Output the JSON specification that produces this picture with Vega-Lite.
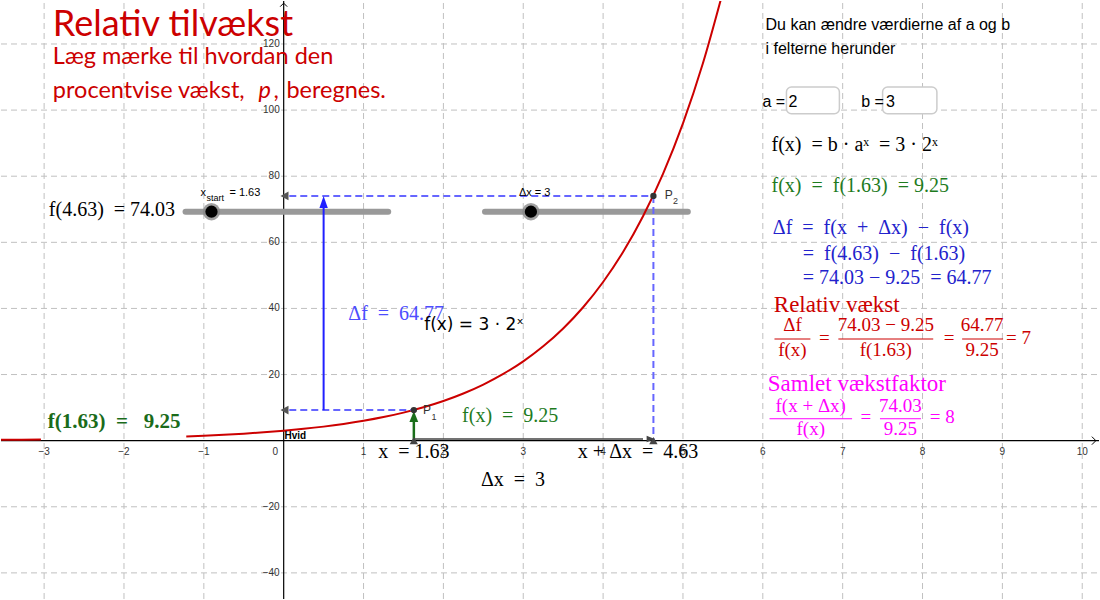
{
 "$schema": "https://vega.github.io/schema/vega-lite/v6.json",
 "width": 1100,
 "height": 600,
 "padding": 0,
 "autosize": {"type": "fit", "contains": "padding"},
 "background": "white",
 "config": {"view": {"stroke": null}},
 "datasets": {
  "vgrid": [{"x":-3,"y":-47.9,"y2":133},{"x":-2,"y":-47.9,"y2":133},{"x":-1,"y":-47.9,"y2":133},{"x":1,"y":-47.9,"y2":133},{"x":2,"y":-47.9,"y2":133},{"x":3,"y":-47.9,"y2":133},{"x":4,"y":-47.9,"y2":133},{"x":5,"y":-47.9,"y2":133},{"x":6,"y":-47.9,"y2":133},{"x":7,"y":-47.9,"y2":133},{"x":8,"y":-47.9,"y2":133},{"x":9,"y":-47.9,"y2":133},{"x":10,"y":-47.9,"y2":133}],
  "hgrid": [{"y":-40,"x":-3.54,"x2":10.21},{"y":-20,"x":-3.54,"x2":10.21},{"y":20,"x":-3.54,"x2":10.21},{"y":40,"x":-3.54,"x2":10.21},{"y":60,"x":-3.54,"x2":10.21},{"y":80,"x":-3.54,"x2":10.21},{"y":100,"x":-3.54,"x2":10.21},{"y":120,"x":-3.54,"x2":10.21}],
  "axes": [{"x":0,"y":-47.9,"x2":0,"y2":133},{"x":-3.54,"y":0,"x2":10.21,"y2":0}],
  "xarrow": [{"x":10.171,"y":0}],
  "yarrow": [{"x":0,"y":132.35}],
  "xlabels": [{"x":-3,"y":-4.22,"t":"−3"},{"x":-2,"y":-4.22,"t":"−2"},{"x":-1,"y":-4.22,"t":"−1"},{"x":-0.104,"y":-4.22,"t":"0"},{"x":1,"y":-4.22,"t":"1"},{"x":2,"y":-4.22,"t":"2"},{"x":3,"y":-4.22,"t":"3"},{"x":4,"y":-4.22,"t":"4"},{"x":5,"y":-4.22,"t":"5"},{"x":6,"y":-4.22,"t":"6"},{"x":7,"y":-4.22,"t":"7"},{"x":8,"y":-4.22,"t":"8"},{"x":9,"y":-4.22,"t":"9"},{"x":10,"y":-4.22,"t":"10"}],
  "ylabels": [{"x":-0.05,"y":120,"t":"120"},{"x":-0.05,"y":100,"t":"100"},{"x":-0.05,"y":80,"t":"80"},{"x":-0.05,"y":60,"t":"60"},{"x":-0.05,"y":40,"t":"40"},{"x":-0.05,"y":20,"t":"20"},{"x":-0.05,"y":-20,"t":"−20"},{"x":-0.05,"y":-40,"t":"−40"}],
  "sliders": [{"x":-1.229,"x2":1.309,"y":69.25},{"x":2.521,"x2":5.061,"y":69.25}],
  "knobs": [{"x":-0.904,"y":69.25},{"x":3.096,"y":69.25}],
  "curve": [
   {"seg":"a","x":-3.54,"y":0.258},{"seg":"a","x":-3.3,"y":0.305},{"seg":"a","x":-3.04,"y":0.364},
   {"seg":"b","x":-1.22,"y":1.288},{"seg":"b","x":-1.0,"y":1.5},{"seg":"b","x":-0.75,"y":1.784},{"seg":"b","x":-0.5,"y":2.121},{"seg":"b","x":-0.25,"y":2.523},{"seg":"b","x":0,"y":3},{"seg":"b","x":0.25,"y":3.568},{"seg":"b","x":0.5,"y":4.243},{"seg":"b","x":0.75,"y":5.045},{"seg":"b","x":1.0,"y":6},{"seg":"b","x":1.25,"y":7.135},{"seg":"b","x":1.5,"y":8.485},{"seg":"b","x":1.75,"y":10.09},{"seg":"b","x":2.0,"y":12},{"seg":"b","x":2.25,"y":14.27},{"seg":"b","x":2.5,"y":16.97},{"seg":"b","x":2.75,"y":20.18},{"seg":"b","x":3.0,"y":24},{"seg":"b","x":3.25,"y":28.54},{"seg":"b","x":3.5,"y":33.94},{"seg":"b","x":3.75,"y":40.36},{"seg":"b","x":4.0,"y":48},{"seg":"b","x":4.25,"y":57.08},{"seg":"b","x":4.5,"y":67.88},{"seg":"b","x":4.75,"y":80.73},{"seg":"b","x":5.0,"y":96},{"seg":"b","x":5.25,"y":114.16},{"seg":"b","x":5.5,"y":135.76}
  ],
  "dashed": [{"x":0.07,"y":74.03,"x2":4.63,"y2":74.03},{"x":0.07,"y":9.25,"x2":1.63,"y2":9.25},{"x":4.63,"y":74.03,"x2":4.63,"y2":0}],
  "bluearrow": [{"x":0.5,"y":9.25,"x2":0.5,"y2":71}],
  "bluehead": [{"x":0.5,"y":74.03}],
  "greenarrow": [{"x":1.63,"y":0,"x2":1.63,"y2":6.5}],
  "greenhead": [{"x":1.63,"y":9.0}],
  "greyarrow": [{"x":1.63,"y":0.5,"x2":4.5,"y2":0.5}],
  "greyhead": [{"x":4.645,"y":0.5}],
  "lefthead": [{"x":-0.04,"y":74.03},{"x":-0.04,"y":9.25}],
  "axispts": [{"x":1.63,"y":0},{"x":4.63,"y":0}],
  "pts": [{"x":1.63,"y":9.25},{"x":4.63,"y":74.03}],
  "boxes": [{"x":6.296,"x2":6.959,"y":107.0,"y2":98.9},{"x":7.5,"x2":8.18,"y":107.0,"y2":98.9}],
  "redlines": [{"x":6.146,"x2":6.596,"y":30.75},{"x":6.946,"x2":8.134,"y":30.75},{"x":8.496,"x2":9.009,"y":30.75}],
  "maglines": [{"x":6.084,"x2":7.118,"y":6.63},{"x":7.467,"x2":7.98,"y":6.63}],
  "title": [{"x":-2.891,"y":122.4,"t":"Relativ tilvækst"}],
  "subtitle": [{"x":-2.891,"y":113.96,"t":"Læg mærke til hvordan den"},{"x":-2.891,"y":103.7,"t":"procentvise vækst,"},{"x":-0.129,"y":103.7,"t":","},{"x":0.034,"y":103.7,"t":"beregnes."}],
  "subp": [{"x":-0.316,"y":103.7,"t":"p"}],
  "sans": [{"x":6.034,"y":124.2,"t":"Du kan ændre værdierne af a og b"},{"x":6.034,"y":117.0,"t":"i felterne herunder"},{"x":5.996,"y":101.0,"t":"a ="},{"x":6.321,"y":101.0,"t":"2"},{"x":7.233,"y":101.0,"t":"b ="},{"x":7.543,"y":101.0,"t":"3"}],
  "mathblack": [{"x":6.109,"y":87.7,"t":"f(x)\u00a0 = b · aˣ\u00a0 = 3 · 2ˣ"},{"x":-2.941,"y":68.1,"t":"f(4.63)\u00a0 = 74.03"},{"x":2.47,"y":-13.57,"t":"Δx\u00a0 =\u00a0 3"},{"x":1.184,"y":-5.2,"t":"x\u00a0 = 1.63"},{"x":3.684,"y":-5.2,"t":"x + Δx\u00a0 =\u00a0 4.63"}],
  "mathgreen": [{"x":6.109,"y":75.2,"t":"f(x)\u00a0 =\u00a0 f(1.63)\u00a0 = 9.25"},{"x":2.234,"y":5.52,"t":"f(x)\u00a0 =\u00a0 9.25"}],
  "boldgreen": [{"x":-2.954,"y":3.83,"t":"f(1.63)\u00a0 =\u00a0\u00a0 9.25"}],
  "mathblue": [{"x":6.125,"y":62.6,"t":"Δf\u00a0 =\u00a0 f(x\u00a0 +\u00a0 Δx)\u00a0 −\u00a0 f(x)"},{"x":6.5,"y":54.57,"t":"=\u00a0 f(4.63)\u00a0 −\u00a0 f(1.63)"},{"x":6.5,"y":47.5,"t":"= 74.03 − 9.25\u00a0 = 64.77"}],
  "lightblue": [{"x":0.809,"y":36.5,"t":"Δf\u00a0 =\u00a0 64.77"}],
  "redhead": [{"x":6.1375,"y":38.98,"t":"Relativ vækst"}],
  "redfrac": [{"x":6.371,"y":33.25,"t":"Δf"},{"x":6.371,"y":25.6,"t":"f(x)"},{"x":7.54,"y":33.25,"t":"74.03 − 9.25"},{"x":7.54,"y":25.6,"t":"f(1.63)"},{"x":8.746,"y":33.25,"t":"64.77"},{"x":8.746,"y":25.6,"t":"9.25"},{"x":6.77,"y":29.39,"t":"="},{"x":8.334,"y":29.39,"t":"="},{"x":9.2025,"y":29.39,"t":"= 7"}],
  "maghead": [{"x":6.0625,"y":15.17,"t":"Samlet vækstfaktor"}],
  "magfrac": [{"x":6.6,"y":8.74,"t":"f(x + Δx)"},{"x":6.6,"y":1.6,"t":"f(x)"},{"x":7.29,"y":5.28,"t":"="},{"x":7.724,"y":8.74,"t":"74.03"},{"x":7.724,"y":1.6,"t":"9.25"},{"x":8.246,"y":5.28,"t":"= 8"}],
  "fxlabel": [{"x":1.759,"y":33.46,"t":"f(x) = 3 · 2ˣ"}],
  "small": [{"x":-1.041,"y":73.86,"t":"x"},{"x":-0.679,"y":74.16,"t":"= 1.63"},{"x":2.946,"y":74.16,"t":"Δx = 3"}],
  "tiny": [{"x":-0.966,"y":72.35,"t":"start"}],
  "hvid": [{"x":0.009,"y":0.6,"t":"Hvid"}],
  "plabels": [{"x":1.746,"y":8.14,"t":"P"},{"x":4.771,"y":72.96,"t":"P"}],
  "psubs": [{"x":1.85,"y":6.4,"t":"1"},{"x":4.875,"y":71.6,"t":"2"}]
 },
 "encoding": {
  "x": {"field": "x", "type": "quantitative", "scale": {"domain": [-3.54, 10.21], "nice": false, "zero": false}, "axis": null},
  "y": {"field": "y", "type": "quantitative", "scale": {"domain": [-47.9, 133], "nice": false, "zero": false}, "axis": null}
 },
 "layer": [
  {"data": {"name": "vgrid"}, "mark": {"type": "rule", "color": "#C0C0C0", "strokeWidth": 1, "strokeDash": [6, 4]}, "encoding": {"y2": {"field": "y2"}}},
  {"data": {"name": "hgrid"}, "mark": {"type": "rule", "color": "#C0C0C0", "strokeWidth": 1, "strokeDash": [6, 4]}, "encoding": {"x2": {"field": "x2"}}},
  {"data": {"name": "axes"}, "mark": {"type": "rule", "color": "black", "strokeWidth": 1.2}, "encoding": {"x2": {"field": "x2"}, "y2": {"field": "y2"}}},
  {"data": {"name": "xarrow"}, "mark": {"type": "point", "shape": "M-1,-1L0,0L-1,1", "filled": false, "stroke": "black", "strokeWidth": 1, "size": 64, "opacity": 1}},
  {"data": {"name": "yarrow"}, "mark": {"type": "point", "shape": "M-1,1L0,0L1,1", "filled": false, "stroke": "black", "strokeWidth": 1, "size": 49, "opacity": 1}},
  {"data": {"name": "xlabels"}, "mark": {"type": "text", "font": "Liberation Sans", "fontSize": 10, "color": "#333333", "align": "center", "baseline": "alphabetic"}, "encoding": {"text": {"field": "t"}}},
  {"data": {"name": "ylabels"}, "mark": {"type": "text", "font": "Liberation Sans", "fontSize": 10, "color": "#333333", "align": "right", "baseline": "middle"}, "encoding": {"text": {"field": "t"}}},
  {"data": {"name": "boxes"}, "mark": {"type": "rect", "fill": "white", "stroke": "#CCCCCC", "strokeWidth": 1.5, "cornerRadius": 5}, "encoding": {"x2": {"field": "x2"}, "y2": {"field": "y2"}}},
  {"data": {"name": "sliders"}, "mark": {"type": "rule", "color": "#999999", "strokeWidth": 6, "strokeCap": "round"}, "encoding": {"x2": {"field": "x2"}}},
  {"data": {"name": "knobs"}, "mark": {"type": "point", "shape": "circle", "filled": true, "color": "#888888", "size": 300, "opacity": 0.8}},
  {"data": {"name": "knobs"}, "mark": {"type": "point", "shape": "circle", "filled": true, "color": "black", "size": 150, "opacity": 1}},
  {"data": {"name": "curve"}, "mark": {"type": "line", "color": "#CC0000", "strokeWidth": 2, "interpolate": "monotone", "clip": true}, "encoding": {"detail": {"field": "seg"}}},
  {"data": {"name": "dashed"}, "mark": {"type": "rule", "color": "#6666FF", "strokeWidth": 2, "strokeDash": [7, 4]}, "encoding": {"x2": {"field": "x2"}, "y2": {"field": "y2"}}},
  {"data": {"name": "bluearrow"}, "mark": {"type": "rule", "color": "#2020FF", "strokeWidth": 2}, "encoding": {"x2": {"field": "x2"}, "y2": {"field": "y2"}}},
  {"data": {"name": "bluehead"}, "mark": {"type": "point", "shape": "M0,0L-0.35,1L0.35,1Z", "filled": true, "color": "#2020FF", "size": 576, "opacity": 1}},
  {"data": {"name": "greenarrow"}, "mark": {"type": "rule", "color": "#1A6E1A", "strokeWidth": 2.5}, "encoding": {"x2": {"field": "x2"}, "y2": {"field": "y2"}}},
  {"data": {"name": "greenhead"}, "mark": {"type": "point", "shape": "M0,0L-0.4,1L0.4,1Z", "filled": true, "color": "#1A6E1A", "size": 484, "opacity": 1}},
  {"data": {"name": "greyarrow"}, "mark": {"type": "rule", "color": "#444444", "strokeWidth": 1.5}, "encoding": {"x2": {"field": "x2"}, "y2": {"field": "y2"}}},
  {"data": {"name": "greyhead"}, "mark": {"type": "point", "shape": "M0,0L-1,-0.4L-1,0.4Z", "filled": true, "color": "#444444", "size": 256, "opacity": 1}},
  {"data": {"name": "lefthead"}, "mark": {"type": "point", "shape": "M0,0L1,-0.55L1,0.55Z", "filled": true, "color": "#555555", "size": 256, "opacity": 1}},
  {"data": {"name": "axispts"}, "mark": {"type": "point", "shape": "triangle-up", "filled": true, "color": "#444444", "size": 70, "opacity": 1}},
  {"data": {"name": "pts"}, "mark": {"type": "point", "shape": "circle", "filled": true, "color": "#333333", "size": 40, "opacity": 1}},
  {"data": {"name": "redlines"}, "mark": {"type": "rule", "color": "#CC0000", "strokeWidth": 1}, "encoding": {"x2": {"field": "x2"}}},
  {"data": {"name": "maglines"}, "mark": {"type": "rule", "color": "#FF00FF", "strokeWidth": 1}, "encoding": {"x2": {"field": "x2"}}},
  {"data": {"name": "title"}, "mark": {"type": "text", "font": "Lato", "fontSize": 36, "color": "#CC0000", "align": "left", "baseline": "alphabetic"}, "encoding": {"text": {"field": "t"}}},
  {"data": {"name": "subtitle"}, "mark": {"type": "text", "font": "Lato", "fontSize": 23.5, "color": "#CC0000", "align": "left", "baseline": "alphabetic"}, "encoding": {"text": {"field": "t"}}},
  {"data": {"name": "subp"}, "mark": {"type": "text", "font": "Lato", "fontSize": 23.5, "fontStyle": "italic", "color": "#CC0000", "align": "left", "baseline": "alphabetic"}, "encoding": {"text": {"field": "t"}}},
  {"data": {"name": "sans"}, "mark": {"type": "text", "font": "Liberation Sans", "fontSize": 16, "color": "black", "align": "left", "baseline": "alphabetic"}, "encoding": {"text": {"field": "t"}}},
  {"data": {"name": "mathblack"}, "mark": {"type": "text", "font": "Liberation Serif", "fontSize": 20, "color": "black", "align": "left", "baseline": "alphabetic"}, "encoding": {"text": {"field": "t"}}},
  {"data": {"name": "mathgreen"}, "mark": {"type": "text", "font": "Liberation Serif", "fontSize": 20, "color": "#1E7B1E", "align": "left", "baseline": "alphabetic"}, "encoding": {"text": {"field": "t"}}},
  {"data": {"name": "boldgreen"}, "mark": {"type": "text", "font": "Liberation Serif", "fontSize": 21, "fontWeight": "bold", "color": "#1A6B1A", "align": "left", "baseline": "alphabetic"}, "encoding": {"text": {"field": "t"}}},
  {"data": {"name": "mathblue"}, "mark": {"type": "text", "font": "Liberation Serif", "fontSize": 20, "color": "#2222CC", "align": "left", "baseline": "alphabetic"}, "encoding": {"text": {"field": "t"}}},
  {"data": {"name": "lightblue"}, "mark": {"type": "text", "font": "Liberation Serif", "fontSize": 20, "color": "#4D4DFF", "align": "left", "baseline": "alphabetic"}, "encoding": {"text": {"field": "t"}}},
  {"data": {"name": "redhead"}, "mark": {"type": "text", "font": "Liberation Serif", "fontSize": 23, "color": "#CC0000", "align": "left", "baseline": "alphabetic"}, "encoding": {"text": {"field": "t"}}},
  {"data": {"name": "redfrac"}, "mark": {"type": "text", "font": "Liberation Serif", "fontSize": 19, "color": "#CC0000", "align": "center", "baseline": "alphabetic"}, "encoding": {"text": {"field": "t"}}},
  {"data": {"name": "maghead"}, "mark": {"type": "text", "font": "Liberation Serif", "fontSize": 23, "color": "#FF00FF", "align": "left", "baseline": "alphabetic"}, "encoding": {"text": {"field": "t"}}},
  {"data": {"name": "magfrac"}, "mark": {"type": "text", "font": "Liberation Serif", "fontSize": 19, "color": "#FF00FF", "align": "center", "baseline": "alphabetic"}, "encoding": {"text": {"field": "t"}}},
  {"data": {"name": "fxlabel"}, "mark": {"type": "text", "font": "DejaVu Sans", "fontSize": 17, "color": "black", "align": "left", "baseline": "alphabetic"}, "encoding": {"text": {"field": "t"}}},
  {"data": {"name": "small"}, "mark": {"type": "text", "font": "Liberation Sans", "fontSize": 11, "color": "black", "align": "left", "baseline": "alphabetic"}, "encoding": {"text": {"field": "t"}}},
  {"data": {"name": "tiny"}, "mark": {"type": "text", "font": "Liberation Sans", "fontSize": 9, "color": "black", "align": "left", "baseline": "alphabetic"}, "encoding": {"text": {"field": "t"}}},
  {"data": {"name": "hvid"}, "mark": {"type": "text", "font": "Liberation Sans", "fontSize": 10, "fontWeight": "bold", "color": "black", "align": "left", "baseline": "alphabetic"}, "encoding": {"text": {"field": "t"}}},
  {"data": {"name": "plabels"}, "mark": {"type": "text", "font": "Liberation Sans", "fontSize": 12, "color": "#333333", "align": "left", "baseline": "alphabetic"}, "encoding": {"text": {"field": "t"}}},
  {"data": {"name": "psubs"}, "mark": {"type": "text", "font": "Liberation Sans", "fontSize": 9, "color": "#333333", "align": "left", "baseline": "alphabetic"}, "encoding": {"text": {"field": "t"}}}
 ]
}
